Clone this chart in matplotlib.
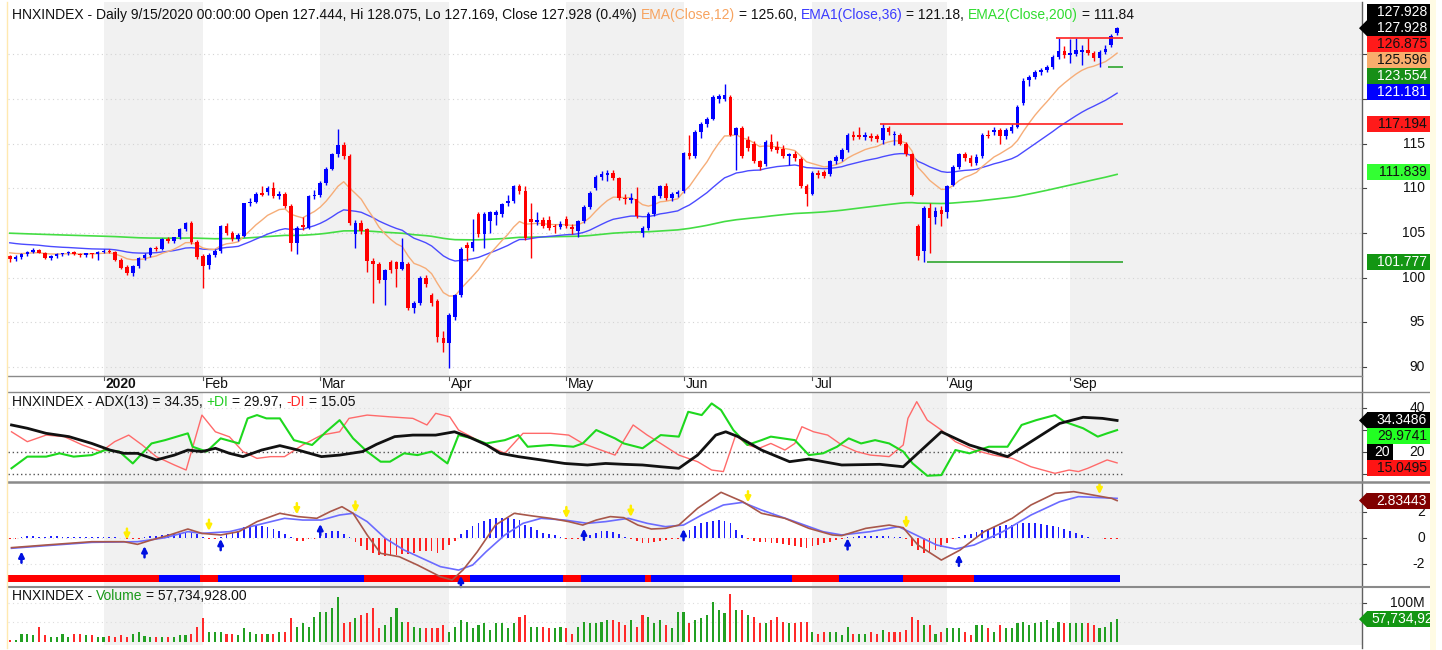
import numpy as np
import pandas as pd
import matplotlib
matplotlib.use("Agg")
import matplotlib.pyplot as plt
from matplotlib.patches import Rectangle, Polygon
from matplotlib.lines import Line2D
from matplotlib.transforms import Bbox, TransformedBbox

plt.rcParams['font.family'] = ['Liberation Sans', 'DejaVu Sans']
plt.rcParams['font.size'] = 10

# ---- daily HNXINDEX bars, Dec 2019 .. 15 Sep 2020 ----
opens = [
    102.4, 102.1, 102.3, 102.6, 102.9, 103.1, 102.8, 102.2, 102.4, 102.6,
    102.7, 102.9, 102.6, 102.5, 102.7, 102.6, 102.9, 103.0, 102.9, 102.0,
    101.2, 100.5, 101.3, 102.2, 102.5, 103.3, 103.2, 104.3, 104.1, 104.5,
    105.4, 106.1, 104.0, 102.4, 101.4, 102.5, 103.0, 105.8, 105.0, 104.3,
    104.7, 108.3, 108.5, 109.5, 109.6, 110.0, 109.1, 109.4, 108.0, 103.9,
    105.9, 105.6, 109.1, 109.3, 110.6, 112.2, 113.8, 114.9, 113.6, 104.9,
    106.1, 105.4, 101.9, 101.5, 99.7, 101.7, 101.7, 101.0, 101.5, 96.6,
    97.1, 100.0, 98.0, 97.4, 93.2, 92.7, 95.6, 98.0, 103.6, 103.3,
    107.1, 104.9, 106.3, 107.0, 107.1, 108.4, 108.6, 110.2, 109.7, 106.6,
    106.2, 106.4, 106.4, 105.8, 105.7, 106.6, 105.7, 105.2, 106.3, 107.9,
    110.0, 111.3, 111.5, 111.7, 111.1, 108.9, 108.7, 108.8, 105.0, 105.6,
    107.1, 109.1, 110.2, 108.9, 109.4, 109.7, 113.9, 113.6, 116.3, 117.2,
    117.8, 120.0, 120.0, 120.2, 116.0, 116.7, 115.4, 115.0, 113.0, 112.7,
    115.2, 114.6, 114.4, 113.6, 113.8, 113.3, 110.2, 109.4, 111.7, 111.8,
    111.6, 113.0, 113.3, 114.3, 116.0, 116.0, 115.7, 115.9, 115.9, 115.4,
    116.7, 116.0, 116.0, 115.0, 113.8, 105.8, 103.0, 107.8, 106.8, 107.6,
    107.4, 110.4, 112.4, 113.8, 113.4, 112.8, 113.6, 116.0, 116.3, 116.5,
    115.8, 116.4, 116.9, 119.5, 122.1, 122.5, 123.0, 123.3, 123.6, 124.7,
    125.4, 124.9, 125.0, 125.3, 125.5, 125.1, 124.6, 125.3, 126.0, 127.444,
]
highs = [
    102.5, 102.5, 102.7, 103.0, 103.3, 103.2, 102.9, 102.5, 102.7, 102.8,
    103.0, 103.0, 102.7, 102.8, 102.8, 103.0, 103.2, 103.2, 103.0, 102.2,
    101.4, 101.4, 102.3, 102.7, 103.4, 103.5, 104.4, 104.6, 104.6, 105.5,
    106.2, 106.3, 104.2, 102.6, 102.7, 103.2, 105.9, 106.1, 105.2, 105.0,
    108.4, 108.9, 109.6, 110.3, 110.2, 110.7, 109.7, 109.6, 108.2, 105.8,
    106.8, 109.3, 109.8, 110.8, 112.4, 114.0, 116.6, 115.2, 113.8, 106.4,
    106.5, 105.6, 102.2, 101.8, 101.0, 102.0, 101.9, 104.4, 101.7, 97.4,
    100.2, 100.3, 98.3, 97.6, 94.0, 96.0, 98.2, 103.4, 104.0, 106.6,
    107.3, 107.3, 107.5, 107.6, 108.4, 109.2, 110.4, 110.5, 110.2, 108.3,
    107.3, 106.8, 106.9, 106.0, 106.3, 106.9, 106.0, 106.5, 108.1, 109.7,
    111.5, 111.9, 112.0, 112.0, 111.3, 109.4, 109.5, 110.1, 105.8, 107.3,
    109.3, 110.4, 110.6, 109.6, 109.8, 114.1, 116.0, 116.5, 117.4, 118.0,
    120.4, 120.6, 121.7, 120.5, 116.9, 117.0, 115.8, 115.3, 113.2, 115.4,
    116.1, 115.3, 114.9, 114.0, 114.2, 113.5, 110.5, 111.9, 112.0, 112.0,
    113.2, 113.7, 114.5, 116.2, 116.4, 116.9, 116.3, 116.2, 116.1, 117.194,
    117.0, 116.4, 116.2, 115.2, 114.0, 106.0, 108.0, 108.3, 107.9, 108.0,
    110.4, 112.6, 114.0, 114.1, 113.7, 113.8, 116.2, 116.5, 116.9, 116.8,
    116.8, 117.2, 119.3, 122.3, 122.7, 123.3, 123.5, 123.8, 124.9, 126.875,
    125.9, 126.7, 126.8, 126.0, 126.8, 125.4, 125.5, 126.0, 127.3, 128.075,
]
lows = [
    101.8, 101.9, 102.1, 102.4, 102.8, 102.7, 102.1, 102.0, 102.2, 102.4,
    102.5, 102.5, 102.3, 102.3, 102.2, 102.0, 102.7, 102.7, 101.9, 101.0,
    100.3, 100.2, 101.1, 102.0, 102.3, 103.0, 103.1, 103.9, 103.9, 104.3,
    105.2, 103.8, 102.1, 98.8, 101.0, 102.3, 102.8, 104.8, 104.1, 104.1,
    104.5, 108.0, 108.3, 109.1, 109.3, 108.9, 108.8, 107.8, 103.0, 102.6,
    105.3, 105.4, 108.8, 109.0, 110.4, 112.0, 113.5, 113.3, 105.9, 103.3,
    104.9, 100.6, 97.1, 99.4, 96.9, 100.5, 99.0, 100.8, 96.4, 96.0,
    96.9, 99.0, 96.8, 92.8, 91.7, 89.9, 95.3, 97.8, 101.9, 103.0,
    104.6, 103.3, 105.0, 105.9, 106.8, 108.0, 108.4, 109.4, 104.2, 102.2,
    105.9, 105.5, 105.3, 105.0, 105.4, 105.6, 104.9, 104.6, 106.1, 107.7,
    109.8, 110.9, 110.8, 110.9, 108.7, 108.2, 108.4, 106.7, 104.5, 105.3,
    106.9, 108.9, 108.7, 108.6, 109.0, 109.5, 113.3, 113.4, 115.6, 116.9,
    117.6, 119.6, 119.8, 115.8, 112.1, 113.4, 114.2, 112.8, 112.0, 112.5,
    114.2, 114.0, 113.4, 112.6, 113.1, 110.0, 108.0, 109.2, 111.2, 111.1,
    111.4, 112.7, 113.1, 114.1, 115.4, 115.5, 115.4, 115.3, 115.2, 115.0,
    116.0, 114.9, 114.8, 113.6, 109.1, 102.0, 101.777, 102.8, 106.0, 105.8,
    106.7, 110.2, 112.2, 113.1, 112.5, 112.6, 113.4, 115.6, 116.0, 115.0,
    115.5, 116.2, 116.7, 119.3, 121.5, 122.2, 122.7, 123.0, 123.4, 124.5,
    124.6, 124.0, 124.8, 123.8, 124.9, 124.3, 123.554, 125.0, 125.8, 127.169,
]
closes = [
    102.1, 102.3, 102.6, 102.9, 103.1, 102.8, 102.2, 102.4, 102.6, 102.7,
    102.9, 102.6, 102.5, 102.7, 102.6, 102.9, 103.0, 102.9, 102.0, 101.1,
    100.5, 101.3, 102.2, 102.5, 103.3, 103.2, 104.3, 104.1, 104.5, 105.4,
    106.1, 104.0, 102.3, 101.3, 102.5, 103.0, 105.8, 105.0, 104.3, 104.8,
    108.3, 108.5, 109.4, 109.3, 110.0, 109.1, 109.4, 108.0, 103.9, 105.6,
    105.7, 109.1, 109.3, 110.6, 112.2, 113.8, 114.9, 113.6, 106.1, 106.1,
    105.2, 101.9, 101.5, 99.7, 100.8, 100.8, 101.0, 101.7, 96.6, 97.1,
    100.0, 99.3, 97.2, 93.3, 92.7, 95.8, 98.0, 103.2, 103.3, 104.0,
    104.9, 107.1, 107.3, 107.4, 108.2, 108.6, 110.2, 109.7, 104.4, 106.2,
    106.4, 105.8, 105.6, 105.7, 106.0, 105.8, 105.4, 106.3, 107.9, 109.5,
    111.3, 111.6, 111.7, 111.1, 108.9, 108.8, 108.9, 106.9, 105.6, 107.1,
    109.1, 110.2, 108.9, 109.4, 109.6, 113.9, 113.6, 116.3, 117.2, 117.8,
    120.2, 120.3, 120.4, 116.0, 116.7, 113.6, 114.5, 113.0, 112.4, 115.2,
    114.4, 114.3, 113.6, 113.8, 113.4, 110.2, 109.4, 111.7, 111.5, 111.4,
    113.0, 113.5, 114.3, 116.0, 115.7, 115.7, 116.0, 115.6, 115.5, 116.7,
    116.3, 116.1, 115.0, 113.8, 109.3, 102.4, 107.8, 106.7, 107.5, 107.1,
    110.2, 112.4, 113.8, 113.4, 112.8, 113.5, 116.0, 115.9, 116.5, 115.8,
    116.5, 116.9, 119.1, 122.0, 122.5, 123.0, 123.2, 123.6, 124.7, 125.4,
    124.9, 125.2, 125.5, 125.5, 125.1, 124.6, 125.3, 125.6, 127.1, 127.928,
]
# volume in millions of shares
volume_m = [
    4, 4, 21, 21, 17, 38, 17, 13, 13, 21,
    13, 19, 19, 17, 17, 13, 13, 15, 13, 17,
    13, 21, 24, 15, 13, 13, 13, 13, 13, 17,
    17, 19, 38, 60, 26, 26, 26, 21, 21, 17,
    34, 26, 21, 21, 21, 21, 24, 26, 60, 38,
    47, 38, 64, 77, 77, 86, 115, 47, 51, 60,
    68, 73, 86, 34, 43, 64, 86, 51, 51, 38,
    34, 34, 34, 34, 43, 26, 38, 56, 51, 34,
    43, 47, 30, 47, 47, 34, 47, 64, 68, 38,
    38, 38, 34, 34, 38, 34, 21, 38, 51, 47,
    47, 51, 56, 56, 51, 43, 56, 38, 68, 64,
    47, 56, 43, 34, 77, 77, 47, 56, 60, 68,
    103, 81, 73, 122, 81, 81, 68, 64, 47, 47,
    56, 64, 51, 47, 47, 51, 51, 26, 21, 26,
    26, 26, 17, 38, 21, 21, 21, 26, 21, 30,
    26, 26, 26, 30, 64, 56, 43, 43, 21, 26,
    34, 34, 34, 26, 17, 43, 43, 34, 26, 43,
    34, 34, 47, 51, 43, 47, 51, 56, 34, 51,
    47, 47, 47, 47, 47, 43, 34, 38, 51, 57.73,
]
# MACD histogram, one value per bar
macd_hist = [
    -0.05, -0.05, 0.1, 0.12, 0.12, 0.1, 0.1, 0.12, 0.12, 0.1,
    0.1, 0.1, 0.1, 0.1, 0.1, 0.08, 0.08, 0.06, 0.04, 0.02,
    -0.05, -0.06, -0.04, 0.05, 0.12, 0.18, 0.22, 0.28, 0.3, 0.38,
    0.42, 0.45, 0.3, 0.05, -0.1, -0.05, 0.1, 0.3, 0.4, 0.5,
    0.8, 1.0, 1.0, 0.9, 0.8, 0.7, 0.5, 0.3, 0.05, -0.2,
    -0.25, -0.1, -0.05, 0.15, 0.4, 0.5, 0.55, 0.3, 0.05, -0.3,
    -0.6, -0.9, -1.1, -1.3, -1.4, -1.35, -1.3, -1.2, -1.2, -1.1,
    -1.0, -1.0, -1.0, -1.1, -0.9, -0.5, -0.2, 0.3, 0.6, 0.9,
    1.1, 1.3, 1.45, 1.5, 1.5, 1.5, 1.45, 1.4, 1.0, 0.8,
    0.6, 0.4, 0.3, 0.2, 0.05, -0.08, -0.1, -0.05, 0.05, 0.2,
    0.4, 0.5, 0.5, 0.45, 0.3, 0.1, -0.05, -0.25, -0.4, -0.35,
    -0.3, -0.2, -0.15, -0.1, -0.05, 0.3, 0.6, 0.9, 1.1, 1.2,
    1.3, 1.35, 1.3, 1.1, 0.6, 0.2, -0.1, -0.2, -0.3, -0.3,
    -0.35, -0.4, -0.45, -0.5, -0.6, -0.7, -0.75, -0.6, -0.5, -0.4,
    -0.3, -0.15, -0.05, 0.05, 0.1, 0.15, 0.15, 0.12, 0.12, 0.15,
    0.12, 0.08, 0.05, -0.1, -0.6, -0.9, -1.1, -1.1, -0.9, -0.7,
    -0.4, -0.1, 0.1, 0.2, 0.3, 0.45, 0.6, 0.7, 0.8, 0.9,
    0.95, 1.0, 1.05, 1.1, 1.15, 1.1, 1.05, 1.0, 0.9, 0.8,
    0.7, 0.5, 0.35, 0.2, 0.1, 0.03, -0.03, -0.05, -0.08, -0.05,
]
# indicator lines read at sample bars: (bar, value)
adx_pts = [(0.3, 32.3), (3.0, 30.8), (6.2, 28.5), (10.1, 27.0), (14.0, 23.9), (17.1, 20.9), (19.5, 19.4),
           (21.8, 19.4), (23.4, 17.9), (25.0, 16.4), (28.1, 18.6), (30.4, 20.9), (32.8, 20.2), (35.1, 21.7),
           (37.5, 19.4), (39.8, 17.9), (43.0, 20.9), (46.1, 22.9), (49.2, 20.9), (53.2, 17.9), (56.3, 18.6),
           (60.2, 20.2), (62.6, 23.5), (65.7, 27.0), (68.8, 27.7), (72.7, 27.7), (75.9, 29.2), (78.2, 27.0),
           (81.4, 23.2), (83.7, 19.4), (86.8, 17.9), (90.7, 16.4), (94.7, 14.8), (98.6, 14.1), (101.7, 14.8),
           (104.8, 14.4), (108.0, 14.1), (111.1, 13.3), (114.2, 12.6), (117.4, 18.6), (120.5, 27.7),
           (122.2, 29.2), (124.3, 27.0), (128.3, 20.9), (133.1, 15.6), (136.4, 16.8), (142.0, 14.1),
           (148.5, 14.4), (152.5, 13.3), (159.0, 29.2), (163.8, 23.2), (170.3, 17.9), (174.3, 24.7),
           (179.2, 33.0), (183.2, 35.8), (186.5, 35.3), (189.0, 34.35)]
pdi_pts = [(0.3, 12.6), (3.0, 17.9), (6.2, 17.9), (8.5, 19.4), (10.9, 17.9), (14.0, 18.6), (16.3, 20.9),
           (18.7, 20.2), (21.0, 14.8), (24.2, 23.9), (26.5, 25.4), (30.4, 28.5), (31.2, 22.4), (33.6, 20.2),
           (36.0, 26.2), (39.1, 23.9), (40.6, 35.3), (42.2, 36.8), (43.8, 35.3), (46.1, 35.3), (48.5, 25.4),
           (51.6, 23.2), (54.0, 29.2), (56.3, 34.5), (58.6, 26.2), (61.0, 20.2), (63.3, 15.6), (64.9, 15.6),
           (67.3, 19.4), (69.6, 18.6), (72.0, 20.2), (74.7, 14.8), (76.6, 27.7), (79.0, 26.2), (81.3, 23.9),
           (84.5, 25.4), (86.8, 27.7), (88.4, 22.4), (92.3, 23.2), (96.2, 22.4), (97.8, 23.9), (100.1, 30.0),
           (103.3, 26.2), (104.8, 23.9), (108.0, 21.7), (111.1, 27.7), (114.2, 27.0), (115.8, 38.3),
           (118.1, 36.8), (119.8, 42.1), (121.4, 39.1), (123.5, 30.0), (125.9, 23.2), (128.3, 25.4),
           (129.9, 27.0), (134.0, 25.4), (136.4, 18.6), (138.8, 19.4), (141.2, 22.4), (143.2, 26.2),
           (145.3, 23.9), (147.7, 25.4), (150.1, 23.9), (152.5, 20.2), (154.1, 14.8), (156.6, 9.2),
           (159.0, 9.5), (161.4, 20.9), (163.8, 19.4), (167.1, 22.4), (170.3, 22.4), (172.7, 32.3),
           (175.2, 34.5), (178.4, 36.8), (180.0, 33.8), (183.2, 30.8), (185.7, 27.0), (187.3, 28.5),
           (189.0, 29.97)]
mdi_pts = [(0.3, 29.2), (3.0, 24.7), (6.2, 27.7), (9.3, 27.0), (12.4, 23.2), (15.6, 20.2), (17.9, 24.7),
           (20.3, 27.7), (22.6, 23.2), (25.0, 17.9), (28.1, 14.1), (30.1, 11.8), (32.8, 36.8), (35.1, 29.2),
           (37.5, 26.9), (39.8, 20.2), (42.2, 17.1), (44.5, 17.9), (46.9, 17.9), (50.0, 23.2), (53.2, 27.7),
           (56.3, 29.2), (57.9, 35.3), (61.0, 36.8), (64.9, 36.0), (68.8, 35.3), (71.2, 32.3), (72.7, 37.6),
           (75.1, 36.0), (76.6, 30.0), (81.4, 23.2), (84.5, 19.4), (87.6, 28.5), (92.3, 28.5), (95.4, 27.7),
           (97.8, 23.9), (100.9, 20.9), (103.3, 18.6), (106.4, 32.3), (108.8, 27.7), (111.1, 23.9),
           (114.2, 18.6), (117.4, 15.6), (119.8, 11.8), (121.8, 11.1), (123.9, 27.7), (125.9, 23.2),
           (127.9, 21.7), (129.9, 23.9), (132.3, 20.9), (134.0, 23.9), (135.2, 31.5), (137.2, 29.2),
           (139.6, 27.7), (142.0, 23.2), (144.5, 20.2), (146.9, 18.6), (150.1, 17.9), (152.5, 23.2),
           (153.3, 35.3), (154.8, 42.9), (156.6, 34.5), (159.0, 30.0), (161.4, 24.7), (164.6, 20.9),
           (167.9, 18.6), (171.1, 17.1), (174.3, 13.3), (178.4, 10.3), (180.8, 11.8), (182.4, 11.1),
           (184.0, 12.6), (187.3, 16.4), (189.0, 15.05)]
macd_pts = [(0.3, -0.73), (6.2, -0.53), (14.0, -0.28), (19.5, -0.28), (21.8, -0.48), (24.2, -0.15),
            (27.3, 0.23), (30.4, 0.68), (32.8, 0.35), (36.0, 0.23), (39.1, 0.48), (42.2, 1.24), (46.1, 1.87),
            (49.2, 1.62), (52.4, 1.49), (54.7, 2.0), (56.7, 2.37), (58.6, 1.87), (61.0, 0.23), (63.3, -1.16),
            (66.5, -1.42), (69.6, -2.05), (73.5, -2.93), (75.5, -3.18), (77.4, -2.4), (79.8, -1.04),
            (82.9, 0.98), (86.1, 1.87), (89.2, 1.67), (92.3, 1.49), (95.4, 1.24), (97.8, 0.98), (100.1, 1.36),
            (102.5, 1.62), (104.8, 1.54), (107.2, 0.98), (109.5, 0.68), (111.9, 0.73), (114.2, 0.98),
            (117.4, 2.25), (121.4, 3.46), (125.1, 2.75), (128.3, 1.87), (132.3, 1.49), (136.4, 0.73),
            (140.4, 0.23), (142.0, 0.18), (146.1, 0.73), (150.1, 0.98), (152.5, 0.78), (155.0, -0.53),
            (159.0, -1.67), (162.2, -0.91), (166.3, 0.48), (171.1, 1.49), (174.3, 2.5), (178.4, 3.38),
            (181.6, 3.51), (184.8, 3.26), (188.1, 3.0), (189.0, 2.83)]
signal_pts = [(0.3, -0.78), (6.2, -0.58), (14.0, -0.33), (21.8, -0.28), (26.5, 0.02), (30.4, 0.48),
              (32.8, 0.35), (37.5, 0.48), (42.2, 0.98), (46.9, 1.49), (50.0, 1.36), (53.2, 1.36), (56.3, 1.74),
              (58.6, 1.87), (61.0, 1.24), (64.1, -0.03), (67.3, -0.91), (70.4, -1.54), (73.5, -2.17),
              (76.6, -2.43), (79.0, -2.05), (81.3, -1.04), (84.5, 0.23), (87.6, 1.11), (90.7, 1.49),
              (94.7, 1.36), (98.6, 1.11), (101.7, 1.24), (105.6, 1.49), (108.8, 1.11), (111.9, 0.86),
              (115.0, 0.98), (118.1, 1.74), (121.8, 2.5), (125.1, 2.7), (128.3, 2.12), (134.0, 1.24),
              (138.8, 0.48), (142.0, 0.23), (146.9, 0.48), (151.7, 0.86), (154.1, 0.35), (158.2, -0.53),
              (161.4, -0.83), (164.6, -0.53), (169.5, 0.48), (174.3, 1.74), (179.2, 2.75), (182.4, 3.13),
              (186.5, 3.05), (189.0, 3.0)]
# coloured ribbon under the MACD: (first bar, last bar, colour)
ribbon = [(0, 25, 'r'), (26, 32, 'b'), (33, 35, 'r'), (36, 60, 'b'), (61, 78, 'r'), (79, 94, 'b'),
          (95, 97, 'r'), (98, 108, 'b'), (109, 109, 'r'), (110, 133, 'b'), (134, 141, 'r'),
          (142, 152, 'b'), (153, 164, 'r'), (165, 189, 'b')]
# EMA start values (bar 0)
ema_seed = {12: 102.9, 36: 104.0, 200: 105.0}
# support / resistance lines: value, first bar
levels = [(126.875, 178.5, 'r'), (117.194, 148.6, 'r'), (123.554, 187.5, 'g'), (101.777, 156.6, 'g')]
month_starts = [16, 33, 53, 75, 95, 115, 137, 160, 181]
month_labels = ['2020', 'Feb', 'Mar', 'Apr', 'May', 'Jun', 'Jul', 'Aug', 'Sep']
price_tags = [127.928, 127.928, 126.875, 125.596, 123.554, 121.181, 117.194, 111.839, 101.777]
adx_tags = [34.3486, 29.9741, 20, 15.0495]
macd_tag = 2.83443
vol_tag = 57.734928

for arr in (opens, highs, lows, closes, volume_m, macd_hist):
    assert len(arr) == 190, len(arr)

o = np.array(opens); h = np.array(highs); l = np.array(lows); c = np.array(closes)
n = len(c)
x = np.arange(n)

def ema(span):
    s = pd.Series([ema_seed[span]] + closes)
    return s.ewm(span=span, adjust=False).mean().to_numpy()[1:]

ema12, ema36, ema200 = ema(12), ema(36), ema(200)

# ---------------- layout ----------------
W, H = 1442, 650
LEFT, RIGHT = 8, 1362
XMIN, XMAX = -0.3, 230.8
fig = plt.figure(figsize=(W / 100, H / 100), dpi=100)
fig.patch.set_facecolor('white')
SHADE = '#f1f1f1'

def add_panel(top, bottom, ylim):
    ax = fig.add_axes([LEFT / W, 1 - bottom / H, (RIGHT - LEFT) / W, (bottom - top) / H])
    ax.set_xlim(XMIN, XMAX)
    ax.set_ylim(*ylim)
    ax.set_axis_off()
    for k in range(0, len(month_starts), 2):
        a = month_starts[k]
        b = month_starts[k + 1] if k + 1 < len(month_starts) else XMAX
        ax.axvspan(a, b, color=SHADE, lw=0, zorder=0)
    return ax

def ypx(ax, v):
    return H - ax.transData.transform((0, v))[1]

def xpx(ax, b):
    return ax.transData.transform((b, 0))[0]

def fline(x0, x1, y0, y1, color='#8a8a8a', lw=1.0, **kw):
    fig.add_artist(Line2D([x0 / W, x1 / W], [1 - y0 / H, 1 - y1 / H], transform=fig.transFigure,
                          color=color, lw=lw, **kw))

def right_ticks(ax, vals, labels, covered=()):
    # tick labels hidden behind a value tag are left out, as in the source chart
    for v, lab in zip(vals, labels):
        y = ypx(ax, v)
        fline(RIGHT, RIGHT + 4, y, y, color='#444444', lw=0.8)
        if any(abs(y - cy) < 12 for cy in covered):
            continue
        fig.text(1425 / W, 1 - y / H, lab, ha='right', va='center', color='#111111')

def tag(y, text, fc, tc, arrow=False, x0=1367, x1=1430, ha='right'):
    fig.add_artist(Rectangle((x0 / W, 1 - (y + 8) / H), (x1 - x0) / W, 16 / H,
                             transform=fig.transFigure, fc=fc, ec='none', zorder=10))
    if arrow:
        fig.add_artist(Polygon([[1359 / W, 1 - y / H], [x0 / W, 1 - (y - 8) / H], [x0 / W, 1 - (y + 8) / H]],
                               closed=True, transform=fig.transFigure, fc=fc, ec='none', zorder=10))
    tx = (x1 - 3) / W if ha == 'right' else (x0 + 4) / W
    t = fig.text(tx, 1 - y / H, text, color=tc, ha=ha, va='center', zorder=11)
    t.set_clip_box(TransformedBbox(Bbox([[0, 0], [x1 / W, 1]]), fig.transFigure))
    t.set_clip_on(True)
    return t

def stack(ys, k, gap=16):
    out = list(ys)
    for i in range(k - 1, -1, -1):
        out[i] = min(out[i], out[i + 1] - gap)
    for i in range(k + 1, len(out)):
        out[i] = max(out[i], out[i - 1] + gap)
    return out

renderer = fig.canvas.get_renderer()
SPACE = 3.9

def colored_line(x0, y_base, pieces):
    xx = x0
    for text, color, gap in pieces:
        xx += gap * SPACE
        t = fig.text(xx / W, 1 - y_base / H, text, color=color, ha='left', va='baseline')
        xx += t.get_window_extent(renderer=renderer).width

# ---------------- price panel ----------------
axp = add_panel(2, 376, (88.98, 130.86))
for v in range(90, 130, 5):
    axp.axhline(v, color='#d4d4d4', lw=0.8, ls=(0, (1, 3)), zorder=1)
axp.plot(x, ema200, color='#44dd44', lw=1.2, zorder=2)
axp.plot(x, ema36, color='#4b4bff', lw=1.0, zorder=2)
axp.plot(x, ema12, color='#f6ad78', lw=1.0, zorder=2)
up = c >= o
ccol = np.where(up, '#0000ff', '#ff0000')
axp.vlines(x, l, h, colors=ccol, lw=1.0, zorder=3)
axp.bar(x, np.maximum(np.abs(c - o), 0.09), bottom=np.minimum(o, c), width=0.62,
        color=ccol, lw=0, zorder=4)
for val, start, col in levels:
    axp.hlines(val, start, n, colors='#ff2020' if col == 'r' else '#2ea62e', lw=1.2, zorder=5)

colored_line(12, 19, [
    ("HNXINDEX - Daily 9/15/2020 00:00:00 Open 127.444, Hi 128.075, Lo 127.169, Close 127.928 (0.4%)", '#111111', 0),
    ("EMA(Close,12)", '#f7a35f', 1), ("= 125.60,", '#111111', 1),
    ("EMA1(Close,36)", '#3a3aff', 1), ("= 121.18,", '#111111', 1),
    ("EMA2(Close,200)", '#2fdc2f', 1), ("= 111.84", '#111111', 1)])

# date band
for b, lab in zip(month_starts, month_labels):
    xb = xpx(axp, b)
    fline(xb, xb, 376, 380, color='#555555', lw=0.8)
    fig.text((xb + 2) / W, 1 - 377 / H, lab, ha='left', va='top',
             fontweight='bold' if lab == '2020' else 'normal', color='#111111')

ptext = [f"{v:.3f}" for v in price_tags]
pstyle = [('#000000', 'white', False), ('#000000', 'white', True), ('#ff1a1a', '#111111', False),
          ('#f9ad6c', '#111111', False), ('#178f17', 'white', False), ('#0000ff', 'white', False),
          ('#ff1a1a', '#111111', False), ('#33ff33', '#111111', False), ('#139613', 'white', False)]
pys = stack([ypx(axp, v) for v in price_tags], 1)
for y, t, (fc, tc, ar) in zip(pys, ptext, pstyle):
    tag(y, t, fc, tc, arrow=ar)
right_ticks(axp, [90, 95, 100, 105, 110, 115, 120, 125], ['90', '95', '100', '105', '110', '115', '120', '125'],
            covered=pys)

# ---------------- ADX panel ----------------
axa = add_panel(392, 482, (6.36, 47.3))
axa.hlines([20, 10], XMIN, n, colors='#555555', lw=1.0, linestyles=[(0, (1, 2))], zorder=1)
axa.axhline(40, color='#dddddd', lw=0.8, ls=(0, (1, 3)), zorder=1)
axa.plot(*zip(*mdi_pts), color='#ff6a6a', lw=1.0, zorder=2)
axa.plot(*zip(*pdi_pts), color='#1ed81e', lw=1.5, zorder=3)
axa.plot(*zip(*adx_pts), color='#111111', lw=2.0, zorder=4)
colored_line(12, 406, [("HNXINDEX - ADX(13) = 34.35,", '#111111', 0), ("+DI", '#22cc22', 1),
                       ("= 29.97,", '#111111', 1), ("-DI", '#ff2a2a', 1), ("= 15.05", '#111111', 1)])
ays = stack([ypx(axa, v) for v in adx_tags], 0)
tag(ays[0], "34.3486", '#000000', 'white', arrow=True)
tag(ays[1], "29.9741", '#22ff22', '#111111')
tag(ays[2], "20", '#000000', 'white', x1=1393)
tag(ays[3], "15.0495", '#ff1414', '#111111')
right_ticks(axa, [10, 20, 30, 40], ['10', '20', '30', '40'], covered=[ays[0], ays[1], ays[3]])

# ---------------- MACD panel ----------------
axm = add_panel(482, 587, (-3.71, 4.24))
for v in (-2, 0, 2):
    axm.axhline(v, color='#dddddd', lw=0.8, ls=(0, (1, 3)), zorder=1)
hist = np.array(macd_hist)
axm.bar(x, hist, width=0.3, color=np.where(hist > 0, '#2020ff', '#ff2020'), lw=0, zorder=2)
mx, my = zip(*macd_pts)
sx, sy = zip(*signal_pts)
axm.plot(sx, sy, color='#6b6bff', lw=1.2, zorder=3)
axm.plot(mx, my, color='#a8574a', lw=1.2, zorder=4)
for s, e, col in ribbon:
    axm.broken_barh([(s - 0.5, e - s + 1)], (-3.33, 0.5), facecolors='#ff0000' if col == 'r' else '#0000ff',
                    lw=0, zorder=2)
for i in range(1, n):
    lo = min(np.interp(i, mx, my), np.interp(i, sx, sy))
    hi = max(np.interp(i, mx, my), np.interp(i, sx, sy))
    if hist[i] > 0 and hist[i - 1] <= 0:
        axm.annotate('', xy=(i, lo - 0.3), xytext=(i, lo - 1.15),
                     arrowprops=dict(arrowstyle='-|>', color='#0010e0', lw=1.8, mutation_scale=8,
                                     shrinkA=0, shrinkB=0), zorder=6)
    elif hist[i] <= 0 and hist[i - 1] > 0:
        axm.annotate('', xy=(i, hi + 0.15), xytext=(i, hi + 1.0),
                     arrowprops=dict(arrowstyle='-|>', color='#ffee00', lw=1.8, mutation_scale=8,
                                     shrinkA=0, shrinkB=0), zorder=6)
my_tag = ypx(axm, macd_tag)
tag(my_tag, "2.83443", '#800000', 'white', arrow=True)
right_ticks(axm, [-2, 0, 2], ['-2', '0', '2'])

# ---------------- volume panel ----------------
axv = add_panel(587, 645, (-8.5, 140.3))
for v in (50, 100):
    axv.axhline(v, color='#dddddd', lw=0.8, ls=(0, (1, 3)), zorder=1)
vol = np.array(volume_m)
vup = np.concatenate([[c[0] >= o[0]], c[1:] >= c[:-1]])
axv.bar(x, vol, width=0.36, color=np.where(vup, '#22a022', '#ff2a2a'), lw=0, zorder=2)
colored_line(12, 600, [("HNXINDEX -", '#111111', 0), ("Volume", '#1a9a1a', 1),
                       ("= 57,734,928.00", '#111111', 1)])
right_ticks(axv, [100], ['100M'])
tag(ypx(axv, vol_tag), "57,734,928", '#139613', 'white', arrow=True, ha='left')

# ---------------- frame lines ----------------
fline(RIGHT, RIGHT, 2, 648, color='#606060', lw=1.0)
fline(LEFT, RIGHT, 376, 376, color='#8a8a8a', lw=1.0)
fline(LEFT, 1430, 392, 392, color='#8a8a8a', lw=1.0)
fline(LEFT, 1430, 482, 482, color='#8a8a8a', lw=1.8)
fline(LEFT, 1430, 587, 587, color='#8a8a8a', lw=1.5)
fline(7, 7, 2, 648, color='#ffe9b0', lw=1.0)
fig.add_artist(Rectangle((1430 / W, 0), 6 / W, 1, transform=fig.transFigure, fc='#fffbe4', ec='none', zorder=12))

fig.savefig('out.png', dpi=100, facecolor='white')
